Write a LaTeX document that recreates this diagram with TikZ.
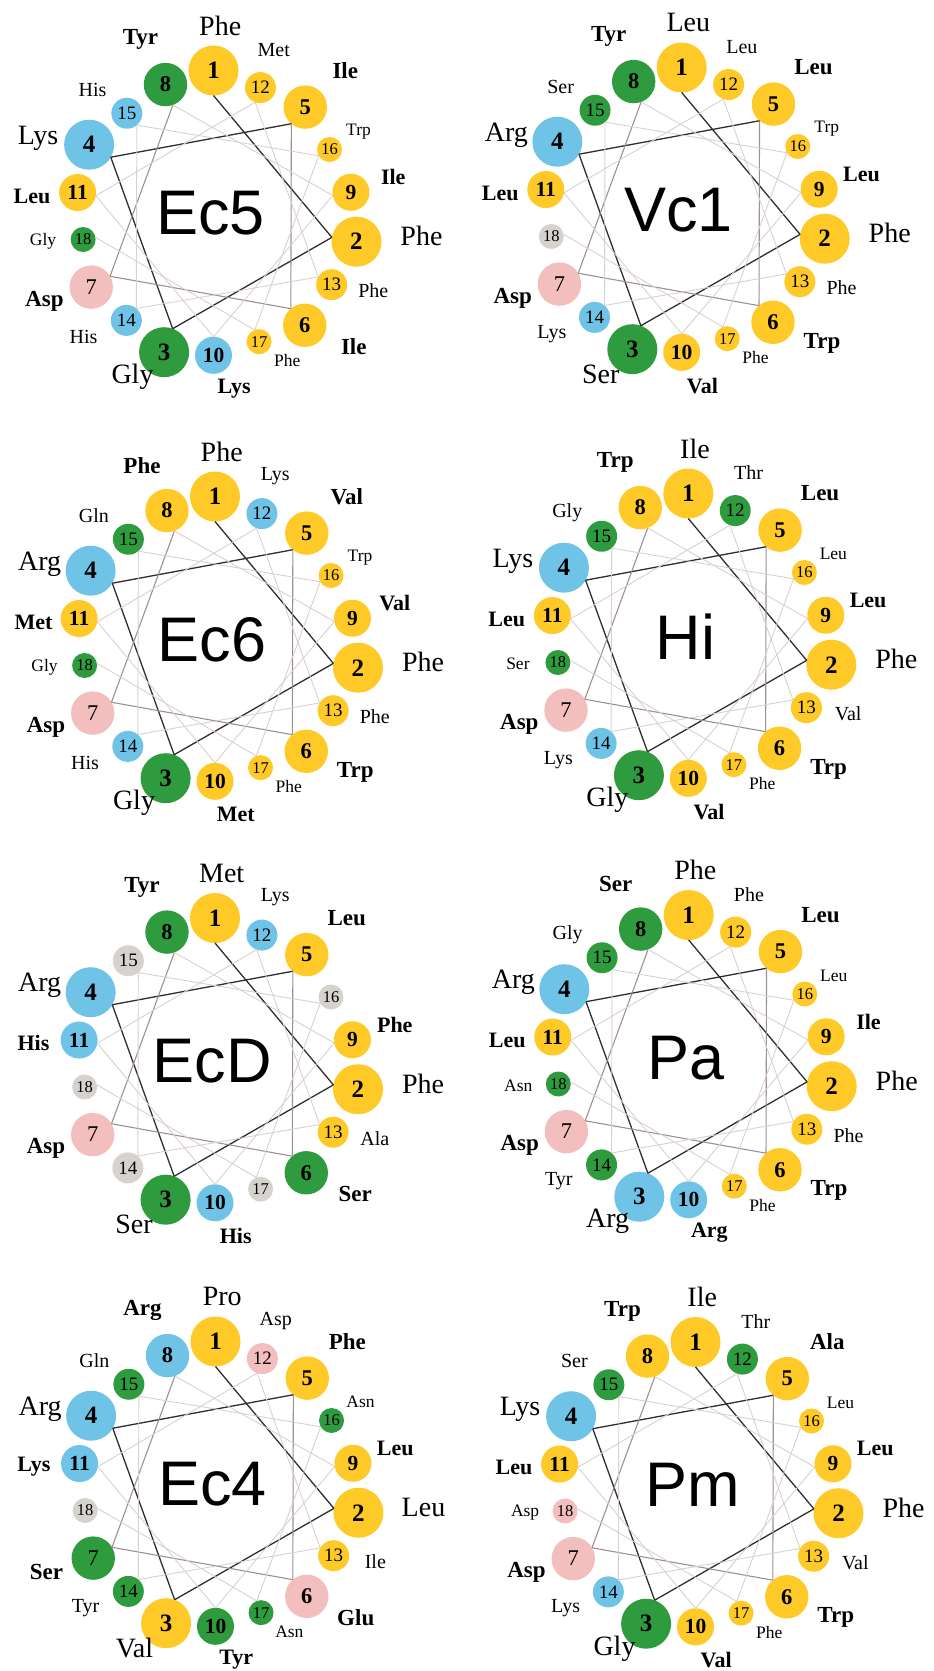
\documentclass[tikz,border=0pt]{standalone}
\usepackage{fontspec}
\setmainfont{Liberation Serif}
\newfontfamily\wheelsans{Liberation Sans}
\usepackage{etoolbox}

% residue classes
\definecolor{resY}{HTML}{FFC928}
\definecolor{resG}{HTML}{2F9B3F}
\definecolor{resB}{HTML}{6EC3E6}
\definecolor{resP}{HTML}{F3BEBE}
\definecolor{resX}{HTML}{D6D2CE}
% backbone links, fading along the sequence
\definecolor{linkA}{HTML}{2E2E2E}
\definecolor{linkB}{HTML}{9E9090}
\definecolor{linkC}{HTML}{DAD0D0}

\tikzset{
  resdisc/.style={circle, inner sep=0pt, outer sep=0pt},
  num1/.style={font=\bfseries\fontsize{25}{25}\selectfont},
  num2/.style={font=\bfseries\fontsize{22.5}{22.5}\selectfont},
  num3/.style={font=\bfseries\fontsize{21.5}{21.5}\selectfont},
  num4/.style={font=\fontsize{19}{19}\selectfont},
  num5/.style={font=\fontsize{16.5}{16.5}\selectfont},
  num6/.style={font=\fontsize{22.5}{22.5}\selectfont},
  lab1/.style={font=\fontsize{28}{28}\selectfont},
  lab2/.style={font=\bfseries\fontsize{23}{23}\selectfont},
  lab3/.style={font=\bfseries\fontsize{22}{22}\selectfont},
  lab4/.style={font=\fontsize{20}{20}\selectfont},
  lab5/.style={font=\fontsize{17.5}{17.5}\selectfont},
  link1/.style={draw=linkA, line width=1.3pt},
  link2/.style={draw=linkB, line width=1.1pt},
  link3/.style={draw=linkC, line width=0.9pt},
  wheeltitle/.style={font=\wheelsans\fontsize{63}{63}\selectfont},
}

% #1 id, #2 centre x, #3 centre y (downwards), #4 title, #5 residues name/class
\newcommand\helixwheel[5]{%
\begin{scope}[shift={(#2,-#3)}]
  \node[wheeltitle] (#1-title) at (-3,3) {#4};
  \foreach \res/\col [count=\i] in {#5} {
    \pgfmathsetmacro\ang{90-100*(\i-1)}
    \pgfmathsetmacro\rad{146-0.8*(\i-1)}
    \pgfmathtruncatemacro\g{{1,1,1,1,2,2,2,2,3,3,3,4,4,4,4,5,5,5}[\i-1]}
    \pgfmathtruncatemacro\ns{{1,1,1,1,2,2,6,2,3,3,3,4,4,4,4,5,5,5}[\i-1]}
    \pgfmathsetmacro\cr{{25,25,25,25,21.7,21.7,21.7,21.7,18.5,18.5,18.5,15.5,15.5,15.5,15.5,12.5,12.5,12.5}[\i-1]}
    \pgfmathsetmacro\dx{{6.7,65,-31.6,-51,40,49,-46.7,-25,42.3,20.7,-45.6,13.3,41.7,-42.7,-34.4,29,28.3,-40}[\i-1]}
    \pgfmathsetmacro\dy{{45,5.7,-25,6.7,36.7,-21,-14,45,15,-33.3,-3.4,37.7,-6,-16.6,23.3,18.3,-19.3,-1.7}[\i-1]}
    \node[resdisc, fill=res\col, minimum size={(2*\cr)*1pt}, num\ns] (#1-\i) at (\ang:\rad) {\i};
    \ifdefstring{\res}{none}{}{%
      \node[lab\g] (#1-\i-name) at ([shift={(\dx,\dy)}]#1-\i.center) {\res};}
  }
  \foreach \i in {1,...,17} {
    \pgfmathtruncatemacro\j{\i+1}
    \pgfmathtruncatemacro\a{mod(270-100*(\i-1)+3600,360)}
    \pgfmathtruncatemacro\b{mod(270-100*\i+3600,360)}
    \pgfmathtruncatemacro\t{\i<5 ? 1 : (\i<8 ? 2 : 3)}
    \draw[link\t] (#1-\i.\a) -- (#1-\j.\b);
  }
\end{scope}}

\begin{document}
\begin{tikzpicture}[x=1pt,y=1pt]
  \useasboundingbox (0,0) rectangle (934,-1671);
  \helixwheel{ecfive}{213.5}{216.5}{Ec5}{Phe/Y,Phe/Y,Gly/G,Lys/B,Ile/Y,Ile/Y,Asp/P,Tyr/G,Ile/Y,Lys/B,Leu/Y,Met/Y,Phe/Y,His/B,His/B,Trp/Y,Phe/Y,Gly/G}
  \helixwheel{vcone}{681.7}{213.5}{Vc1}{Leu/Y,Phe/Y,Ser/G,Arg/B,Leu/Y,Trp/Y,Asp/P,Tyr/G,Leu/Y,Val/Y,Leu/Y,Leu/Y,Phe/Y,Lys/B,Ser/G,Trp/Y,Phe/Y,none/X}
  \helixwheel{ecsix}{215}{642.5}{Ec6}{Phe/Y,Phe/Y,Gly/G,Arg/B,Val/Y,Trp/Y,Asp/P,Phe/Y,Val/Y,Met/Y,Met/Y,Lys/B,Phe/Y,His/B,Gln/G,Trp/Y,Phe/Y,Gly/G}
  \helixwheel{hi}{688.3}{639.5}{Hi}{Ile/Y,Phe/Y,Gly/G,Lys/B,Leu/Y,Trp/Y,Asp/P,Trp/Y,Leu/Y,Val/Y,Leu/Y,Thr/G,Val/Y,Lys/B,Gly/G,Leu/Y,Phe/Y,Ser/G}
  \helixwheel{ecd}{215}{1064}{EcD}{Met/Y,Phe/Y,Ser/G,Arg/B,Leu/Y,Ser/G,Asp/P,Tyr/G,Phe/Y,His/B,His/B,Lys/B,Ala/Y,none/X,none/X,none/X,none/X,none/X}
  \helixwheel{pa}{688.7}{1061}{Pa}{Phe/Y,Phe/Y,Arg/B,Arg/B,Leu/Y,Trp/Y,Asp/P,Ser/G,Ile/Y,Arg/B,Leu/Y,Phe/Y,Phe/Y,Tyr/G,Gly/G,Leu/Y,Phe/Y,Asn/G}
  \helixwheel{ecfour}{215.5}{1487.5}{Ec4}{Pro/Y,Leu/Y,Val/Y,Arg/B,Phe/Y,Glu/P,Ser/G,Arg/B,Leu/Y,Tyr/G,Lys/B,Asp/P,Ile/Y,Tyr/G,Gln/G,Asn/G,Asn/G,none/X}
  \helixwheel{pm}{695.5}{1488}{Pm}{Ile/Y,Phe/Y,Gly/G,Lys/B,Ala/Y,Trp/Y,Asp/P,Trp/Y,Leu/Y,Val/Y,Leu/Y,Thr/G,Val/Y,Lys/B,Ser/G,Leu/Y,Phe/Y,Asp/P}
\end{tikzpicture}
\end{document}
